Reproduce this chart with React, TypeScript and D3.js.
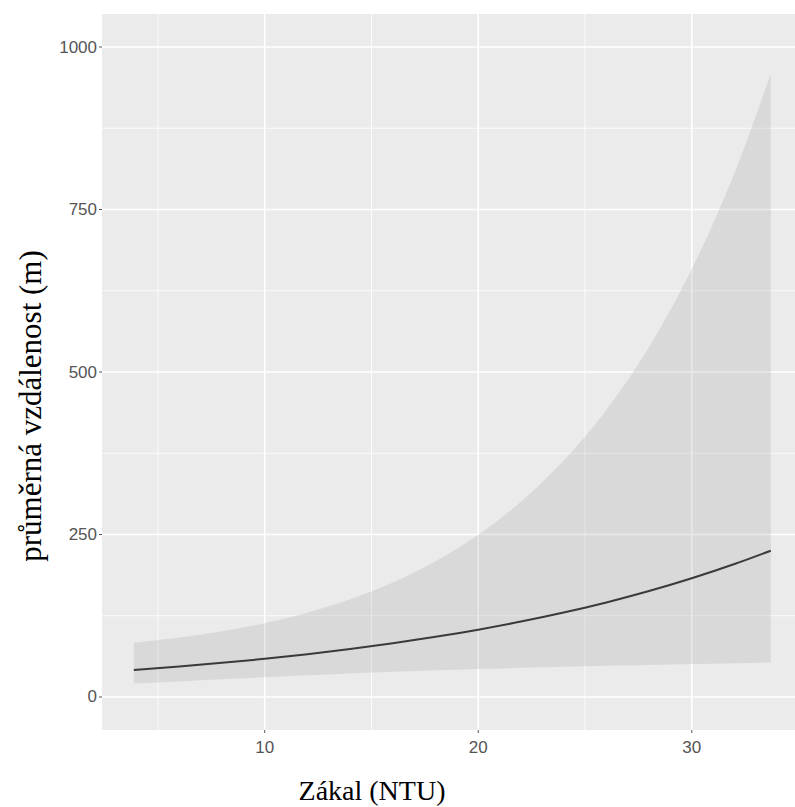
import React from "react";
import * as d3 from "d3";

const turbidity = [3.87, 6, 8, 10, 12, 14, 16, 18, 20, 22, 24, 26, 28, 30, 32, 33.7];
const meanDistance = [41.5, 46.8, 52.5, 58.7, 65.8, 73.7, 82.5, 92.5, 103.6, 116.0, 129.9, 145.5, 163.0, 182.6, 204.5, 225.0];
const upperCI = [83.6, 91.4, 101.2, 113.6, 129.7, 150.2, 176.1, 208.9, 249.7, 300.4, 363.4, 441.6, 538.4, 658.3, 806.2, 959.0];
const lowerCI = [20.6, 24.0, 27.2, 30.4, 33.4, 36.2, 38.7, 41.0, 43.0, 44.8, 46.4, 47.9, 49.3, 50.7, 51.9, 52.9];

const xMajorTicks = [10, 20, 30];
const xMinorTicks = [5, 15, 25, 35];
const yMajorTicks = [0, 250, 500, 750, 1000];
const yMinorTicks = [125, 375, 625, 875];

const xTitle = "Zákal (NTU)";
const yTitle = "průměrná vzdálenost (m)";

const W = 795;
const H = 807;
const panel = { left: 102, top: 14, right: 802.8, bottom: 730 };

export default function App() {
  const x = d3.scaleLinear().domain([2.38, 35.2]).range([panel.left, panel.right]);
  const y = d3.scaleLinear().domain([-50.8, 1050.8]).range([panel.bottom, panel.top]);

  const pts = turbidity.map((t, i) => ({ t, m: meanDistance[i], u: upperCI[i], l: lowerCI[i] }));

  const area = d3
    .area<any>()
    .x((d) => x(d.t))
    .y0((d) => y(d.l))
    .y1((d) => y(d.u))
    .curve(d3.curveMonotoneX);
  const line = d3
    .line<any>()
    .x((d) => x(d.t))
    .y((d) => y(d.m))
    .curve(d3.curveMonotoneX);

  const tickFont = "'Liberation Sans', Arial, Helvetica, sans-serif";
  const titleFont = "'Liberation Serif', 'Times New Roman', serif";

  return (
    <svg
      width={W}
      height={H}
      style={{ position: "absolute", left: 0, top: 0, background: "#fff" }}
    >
      <defs>
        <clipPath id="panelClip">
          <rect x={panel.left} y={panel.top} width={panel.right - panel.left} height={panel.bottom - panel.top} />
        </clipPath>
      </defs>
      <g clipPath="url(#panelClip)">
        <rect x={panel.left} y={panel.top} width={panel.right - panel.left} height={panel.bottom - panel.top} fill="#EBEBEB" />
        {yMinorTicks.map((v) => (
          <line key={"ym" + v} x1={panel.left} x2={panel.right} y1={y(v)} y2={y(v)} stroke="#fff" strokeWidth={0.8} />
        ))}
        {xMinorTicks.map((v) => (
          <line key={"xm" + v} y1={panel.top} y2={panel.bottom} x1={x(v)} x2={x(v)} stroke="#fff" strokeWidth={0.8} />
        ))}
        {yMajorTicks.map((v) => (
          <line key={"yM" + v} x1={panel.left} x2={panel.right} y1={y(v)} y2={y(v)} stroke="#fff" strokeWidth={1.6} />
        ))}
        {xMajorTicks.map((v) => (
          <line key={"xM" + v} y1={panel.top} y2={panel.bottom} x1={x(v)} x2={x(v)} stroke="#fff" strokeWidth={1.6} />
        ))}
        <path d={area(pts) || ""} fill="#999999" fillOpacity={0.22} />
        <path d={line(pts) || ""} fill="none" stroke="#3a3a3a" strokeWidth={2} />
      </g>
      {yMajorTicks.map((v) => (
        <g key={"yt" + v}>
          <line x1={panel.left - 3} x2={panel.left} y1={y(v)} y2={y(v)} stroke="#555" strokeWidth={1} />
          <text
            x={panel.left - 5}
            y={y(v)}
            textAnchor="end"
            dominantBaseline="central"
            fontFamily={tickFont}
            fontSize={17}
            fill="#555"
          >
            {v}
          </text>
        </g>
      ))}
      {xMajorTicks.map((v) => (
        <g key={"xt" + v}>
          <line y1={panel.bottom} y2={panel.bottom + 3} x1={x(v)} x2={x(v)} stroke="#555" strokeWidth={1} />
          <text x={x(v)} y={753} textAnchor="middle" fontFamily={tickFont} fontSize={17} fill="#555">
            {v}
          </text>
        </g>
      ))}
      <text x={372} y={800} textAnchor="middle" fontFamily={titleFont} fontSize={28} fill="#000">
        {xTitle}
      </text>
      <text
        transform={`translate(41, 406) rotate(-90)`}
        textAnchor="middle"
        fontFamily={titleFont}
        fontSize={31}
        fill="#000"
      >
        {yTitle}
      </text>
    </svg>
  );
}
